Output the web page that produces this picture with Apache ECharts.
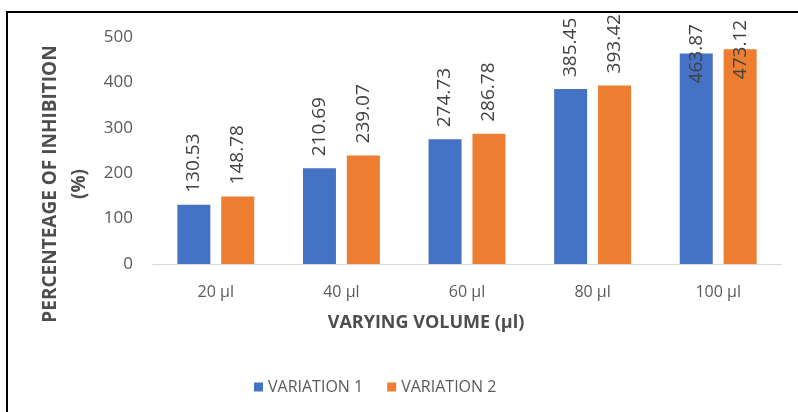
<!DOCTYPE html>
<html>
<head>
<meta charset="utf-8">
<script src="https://cdn.jsdelivr.net/npm/echarts@6/dist/echarts.min.js"></script>
<style>
  html, body { margin: 0; padding: 0; background: #fff; }
  #chart { position: absolute; left: 0; top: 0; width: 798px; height: 412px; }
  #frame { position: absolute; left: 6px; top: 11px; right: -4px; bottom: -4px;
           border-top: 2px solid #000; border-left: 2px solid #000; pointer-events: none; }
</style>
</head>
<body>
<div id="chart"></div>
<div id="frame"></div>
<script>
// Inhibition results for each sample volume
const categories = ['20 µl', '40 µl', '60 µl', '80 µl', '100 µl'];
const variation1 = [130.53, 210.69, 274.73, 385.45, 463.87];
const variation2 = [148.78, 239.07, 286.78, 393.42, 473.12];
const seriesNames = ['VARIATION 1', 'VARIATION 2'];
const yTicks = { min: 0, max: 500, interval: 100 };

const FONT = '"Open Sans", "Liberation Sans", sans-serif';
const TEXT = '#595959';

// Tall bars near the top keep their labels inside the plot area
function withLabels(values) {
  return values.map(v => v > 440
    ? { value: v, label: { distance: -30 } }
    : v);
}

const chart = echarts.init(document.getElementById('chart'), null, { renderer: 'canvas' });

chart.setOption({
  animation: false,
  color: ['#4472C4', '#ED7D31'],
  grid: { left: 153, right: 17, top: 37, bottom: 148 },
  legend: {
    data: seriesNames,
    left: 249, top: 374,
    itemWidth: 9, itemHeight: 9, itemGap: 24,
    icon: 'rect',
    textStyle: { color: TEXT, fontFamily: FONT, fontSize: 16 }
  },
  xAxis: {
    type: 'category',
    data: categories,
    axisLine: { lineStyle: { color: '#d9d9d9', width: 1 } },
    axisTick: { show: false },
    axisLabel: { color: TEXT, fontFamily: FONT, fontSize: 16, margin: 20 }
  },
  yAxis: {
    type: 'value',
    min: yTicks.min, max: yTicks.max, interval: yTicks.interval,
    splitLine: { show: false },
    axisLine: { show: false },
    axisTick: { show: false },
    axisLabel: { color: TEXT, fontFamily: FONT, fontSize: 17, margin: 20 }
  },
  graphic: [
    {
      type: 'text', x: 65, y: 184, rotation: Math.PI / 2,
      style: {
        text: 'PERCENTEAGE OF INHIBITION\n(%)',
        align: 'center', verticalAlign: 'middle',
        fill: '#4d4d4d', font: 'bold 19px ' + FONT, lineHeight: 29
      }
    },
    {
      type: 'text', x: 426, y: 323,
      style: {
        text: 'VARYING VOLUME (µl)',
        align: 'center', verticalAlign: 'middle',
        fill: '#4d4d4d', font: 'bold 18px ' + FONT
      }
    }
  ],
  series: [variation1, variation2].map((vals, i) => ({
    name: seriesNames[i],
    type: 'bar',
    data: withLabels(vals),
    barWidth: 33,
    barGap: '33%',
    label: {
      show: true,
      position: 'top',
      distance: 12,
      rotate: 90,
      align: 'left',
      verticalAlign: 'middle',
      color: '#404040',
      fontFamily: FONT,
      fontSize: 19,
      formatter: p => p.value.toFixed(2)
    }
  }))
});
</script>
</body>
</html>
